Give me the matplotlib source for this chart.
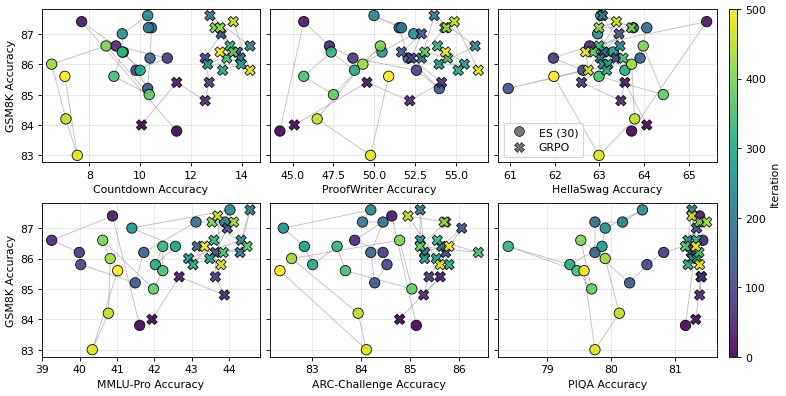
import numpy as np
import matplotlib
matplotlib.use("Agg")
import matplotlib.pyplot as plt
from matplotlib.lines import Line2D

# iterations 0..500 every 25 steps (21 checkpoints)
iters = np.arange(0, 501, 25)

# ES (30) trajectory
es_gsm8k = [83.8, 87.4, 86.6, 86.2, 85.8, 85.2, 86.2, 87.2, 87.2, 87.6, 87.0,
            86.4, 85.8, 86.4, 85.6, 85.0, 86.6, 86.0, 84.2, 83.0, 85.6]
es_countdown = [11.44, 7.70, 9.05, 11.07, 9.84, 10.30, 10.39, 10.45, 10.33, 10.30, 9.30,
                9.34, 10.00, 9.30, 8.97, 10.36, 8.66, 6.52, 7.08, 7.53, 7.04]
es_proofwriter = [44.22, 45.68, 47.25, 48.69, 52.58, 53.98, 52.07, 51.52, 51.66, 49.98, 52.42,
                  50.47, 48.79, 47.36, 45.68, 47.50, 50.37, 49.30, 46.50, 49.77, 50.88]
es_hellaswag = [63.72, 65.40, 62.78, 61.97, 62.63, 60.96, 63.91, 64.06, 63.76, 63.03, 62.96,
                63.31, 63.57, 63.10, 62.99, 64.43, 63.98, 63.72, 63.79, 62.99, 61.98]
es_mmlu = [41.61, 40.88, 39.25, 39.99, 40.03, 41.49, 41.72, 43.12, 43.89, 44.03, 41.40,
           42.57, 42.03, 42.23, 42.23, 41.98, 40.62, 40.82, 40.77, 40.34, 41.02]
es_arc = [85.13, 84.63, 83.87, 84.45, 84.53, 84.28, 84.20, 84.45, 84.03, 84.20, 82.41,
          82.84, 83.01, 83.51, 83.68, 85.04, 84.79, 82.58, 83.94, 84.11, 82.34]
es_piqa = [81.16, 81.38, 81.43, 80.82, 80.56, 80.29, 79.75, 79.75, 80.18, 80.49, 79.91,
           79.86, 79.36, 78.40, 79.47, 79.70, 79.53, 79.91, 80.13, 79.75, 79.58]

# GRPO trajectory
grpo_gsm8k = [84.0, 85.4, 84.8, 85.4, 86.2, 87.0, 86.4, 86.2, 87.6, 86.6, 86.0,
              86.0, 85.8, 86.6, 86.2, 86.4, 87.2, 87.2, 87.4, 85.8, 86.4]
grpo_countdown = [10.06, 11.44, 12.56, 12.72, 12.56, 13.19, 13.83, 13.95, 12.75, 14.33, 12.66,
                  13.98, 13.25, 13.54, 13.41, 13.67, 12.95, 13.15, 13.67, 14.33, 13.15]
grpo_proofwriter = [45.10, 49.55, 52.17, 54.12, 52.27, 52.89, 51.66, 52.89, 53.67, 56.17, 53.96,
                    55.51, 55.14, 53.87, 54.49, 53.09, 54.32, 54.42, 54.90, 56.37, 54.36]
grpo_hellaswag = [64.06, 63.57, 63.48, 62.60, 63.37, 63.44, 63.10, 63.02, 63.07, 63.46, 63.08,
                  63.19, 63.16, 62.99, 63.53, 62.86, 63.72, 62.99, 63.38, 62.75, 62.69]
grpo_mmlu = [41.94, 42.67, 43.88, 43.64, 43.64, 43.96, 43.15, 44.30, 44.57, 44.33, 42.92,
             43.49, 43.04, 43.60, 43.85, 44.49, 43.55, 44.13, 43.70, 43.79, 43.35]
grpo_arc = [84.79, 85.62, 85.28, 85.39, 85.73, 86.06, 85.65, 85.30, 85.21, 85.21, 85.30,
            85.54, 85.80, 85.56, 86.40, 85.21, 85.73, 85.70, 84.96, 85.62, 85.80]
grpo_piqa = [81.32, 81.40, 81.38, 81.41, 81.25, 81.33, 81.22, 81.31, 81.26, 81.20, 81.27,
             81.34, 81.20, 81.33, 81.37, 81.16, 81.38, 81.49, 81.26, 81.38, 81.32]

panels = [
    ("Countdown Accuracy", es_countdown, grpo_countdown),
    ("ProofWriter Accuracy", es_proofwriter, grpo_proofwriter),
    ("HellaSwag Accuracy", es_hellaswag, grpo_hellaswag),
    ("MMLU-Pro Accuracy", es_mmlu, grpo_mmlu),
    ("ARC-Challenge Accuracy", es_arc, grpo_arc),
    ("PIQA Accuracy", es_piqa, grpo_piqa),
]

fig = plt.figure(figsize=(10, 5.05), dpi=78.6)
lefts = [0.0531, 0.3435, 0.634]
bottoms = [0.5886, 0.099]
w, h = 0.2777, 0.3875
axes = []
for r in range(2):
    for c in range(3):
        ax = fig.add_axes([lefts[c], bottoms[r], w, h],
                          sharey=axes[0] if axes else None)
        axes.append(ax)

norm = plt.Normalize(0, 500)
cmap = plt.get_cmap("viridis")
for i, (ax, (lab, es_x, gr_x)) in enumerate(zip(axes, panels)):
    ax.plot(es_x, es_gsm8k, color="gray", alpha=0.5, lw=0.8, zorder=1)
    ax.plot(gr_x, grpo_gsm8k, color="gray", alpha=0.5, lw=0.8, zorder=1)
    sc = ax.scatter(es_x, es_gsm8k, c=iters, cmap=cmap, norm=norm, s=90, marker="o",
                    edgecolors="black", linewidths=0.8, alpha=0.9, zorder=2)
    ax.scatter(gr_x, grpo_gsm8k, c=iters, cmap=cmap, norm=norm, s=90, marker="X",
               edgecolors="black", linewidths=0.8, alpha=0.9, zorder=3)
    ax.set_xlabel(lab)
    ax.grid(True, alpha=0.3)
    if i % 3 == 0:
        ax.set_ylabel("GSM8K Accuracy")
    else:
        ax.tick_params(labelleft=False)

axes[0].set_yticks([83, 84, 85, 86, 87])

handles = [
    Line2D([], [], marker="o", ls="", markerfacecolor="dimgray", markeredgecolor="black",
           markeredgewidth=0.6, markersize=9, alpha=0.9, label="ES (30)"),
    Line2D([], [], marker="X", ls="", markerfacecolor="dimgray", markeredgecolor="black",
           markeredgewidth=0.6, markersize=9, alpha=0.9, label="GRPO"),
]
axes[2].legend(handles=handles, loc="lower left")

cax = fig.add_axes([0.928, 0.099, 0.0102, 0.876])
cb = fig.colorbar(sc, cax=cax)
cb.set_label("Iteration")
cb.set_ticks([0, 100, 200, 300, 400, 500])

fig.savefig("out.png", dpi=78.6)
